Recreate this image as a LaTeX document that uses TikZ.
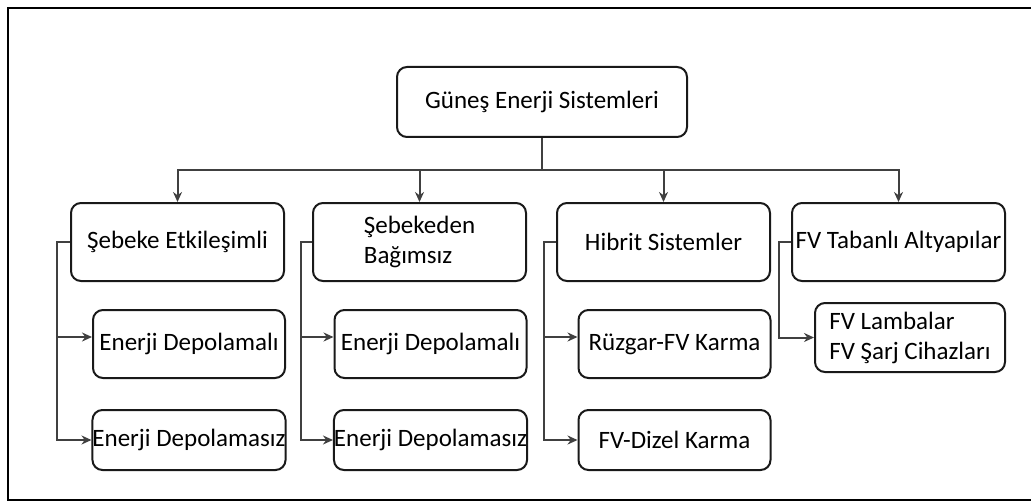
\documentclass[tikz,border=0pt]{standalone}
\usepackage{fontspec}
\setmainfont{Carlito}
\usetikzlibrary{arrows.meta,positioning}

\begin{document}
\begin{tikzpicture}[x=0.5pt, y=-0.5pt, >={Stealth[length=5pt,width=4.5pt]}]
    \tikzset{
        kutu/.style={draw=black!90, line width=1pt, rounded corners=5pt, font=\fontsize{12.5}{15}\selectfont, align=center, inner xsep=1pt},
        ana/.style={kutu, minimum width=145pt, minimum height=35pt},
        grup/.style={kutu, minimum width=106.5pt, minimum height=39pt},
        alt/.style={kutu, minimum width=96pt, minimum height=34pt, inner xsep=0pt},
        bag/.style={draw=black!75, line width=1pt}
    }
    \useasboundingbox (0,0) rectangle (1031,502);

    % outer frame
    \draw[line width=1pt] (1040,8) -- (8,8) -- (8,500) -- (1040,500);

    % root
    \node[ana] (gunes) at (542,102) {Güneş Enerji Sistemleri};

    % groups
    \node[grup] (sebeke) at (177.5,242) {Şebeke Etkileşimli};
    \node[grup, align=left] (bagimsiz) at (419.5,242) {Şebekeden\\Bağımsız};
    \node[grup] (hibrit) at (663.5,242) {Hibrit Sistemler};
    \node[grup] (fvtaban) at (898.5,242) {FV Tabanlı Altyapılar};

    \coordinate (bus) at (542,170);
    \draw[bag] (gunes.south) -- (bus);
    \foreach \g in {sebeke,bagimsiz,hibrit,fvtaban}
        \draw[bag,->] (bus) -| (\g.north);

    % sub items
    \node[alt] (s1) at (189,344) {Enerji Depolamalı};
    \node[alt, minimum height=30pt] (s2) at (189,440) {Enerji Depolamasız};
    \node[alt] (b1) at (430.5,344) {Enerji Depolamalı};
    \node[alt, minimum height=30pt] (b2) at (430.5,440) {Enerji Depolamasız};
    \node[alt] (h1) at (674.5,344) {Rüzgar-FV Karma};
    \node[alt, minimum height=30pt] (h2) at (674.5,440) {FV-Dizel Karma};
    \node[alt, align=left, minimum width=95pt, minimum height=34.5pt] (f1) at (910,337.5) {FV Lambalar\\FV Şarj Cihazları};

    \draw[bag,->] (sebeke.west) -- ++(-13,0) |- ([yshift=3.5pt]s1.west);
    \draw[bag,->] (sebeke.west) -- ++(-13,0) |- (s2.west);
    \draw[bag,->] (bagimsiz.west) -- ++(-11,0) |- ([yshift=3.5pt]b1.west);
    \draw[bag,->] (bagimsiz.west) -- ++(-11,0) |- (b2.west);
    \draw[bag,->] (hibrit.west) -- ++(-12,0) |- ([yshift=3.5pt]h1.west);
    \draw[bag,->] (hibrit.west) -- ++(-12,0) |- (h2.west);
    \draw[bag,->] (fvtaban.west) -- ++(-12,0) |- (f1.west);
\end{tikzpicture}
\end{document}
